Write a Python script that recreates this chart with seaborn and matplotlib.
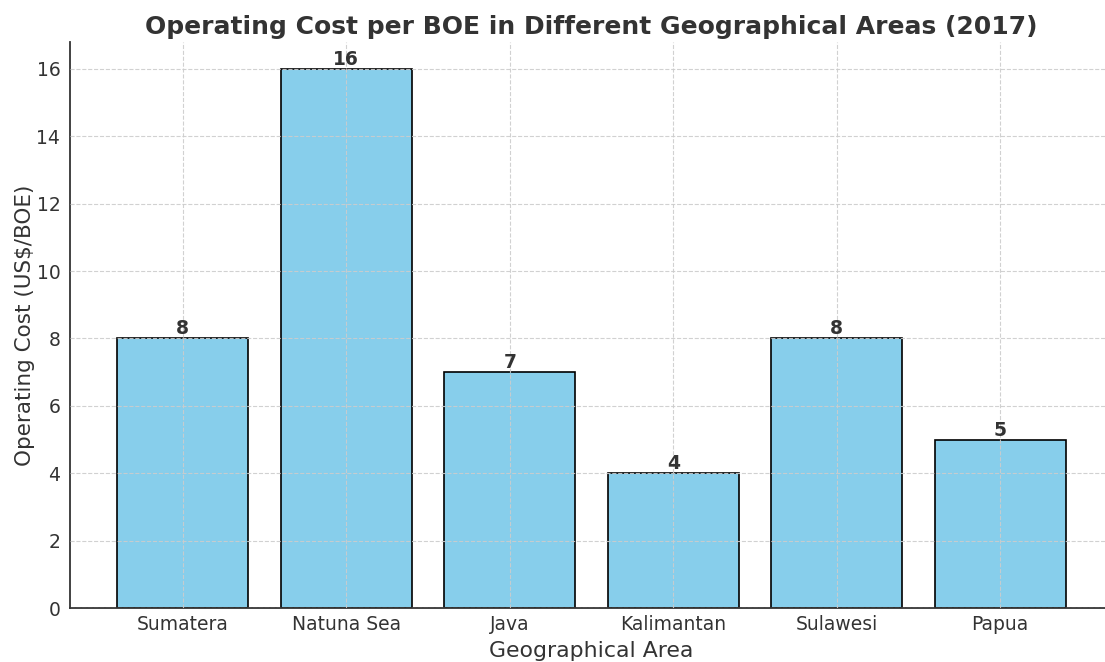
import matplotlib
matplotlib.use("Agg")
import matplotlib.pyplot as plt
import seaborn as sns
import pandas as pd

areas = ["Sumatera", "Natuna Sea", "Java", "Kalimantan", "Sulawesi", "Papua"]
costs = [8, 16, 7, 4, 8, 5]

df = pd.DataFrame({"Geographical Area": areas, "Operating Cost": costs})

sns.set_theme(style="white")
plt.rcParams["font.family"] = ["DejaVu Sans"]
text_color = "#333333"

fig = plt.figure(figsize=(11.05, 6.62), dpi=100)
ax = fig.add_axes([70 / 1105, 54 / 662, 1043 / 1105, 566 / 662])

sns.barplot(data=df, x="Geographical Area", y="Operating Cost", ax=ax,
            color="skyblue", saturation=1, width=0.8,
            edgecolor="black", linewidth=1.2)

for patch, val in zip(ax.patches, costs):
    ax.text(patch.get_x() + patch.get_width() / 2, val, f"{val}",
            ha="center", va="bottom", fontsize=13.5, fontweight="bold",
            color=text_color)

ax.set_xlim(-0.69, 5.69)
ax.set_ylim(0, 16.8)
ax.set_axisbelow(False)
ax.grid(True, linestyle="--", color="#cccccc", linewidth=0.8, alpha=0.9)

ax.set_title("Operating Cost per BOE in Different Geographical Areas (2017)",
             fontsize=18, fontweight="bold", color=text_color, pad=6)
ax.set_xlabel("Geographical Area", fontsize=15.8, color=text_color, labelpad=5)
ax.set_ylabel("Operating Cost (US$/BOE)", fontsize=15.5, color=text_color,
              labelpad=1)

ax.tick_params(axis="x", direction="in", length=4, color=text_color,
               labelsize=13.5, labelcolor=text_color, pad=5)
ax.tick_params(axis="y", length=0, labelsize=13.5, labelcolor=text_color, pad=7)

for side in ["top", "right"]:
    ax.spines[side].set_visible(False)
for side in ["left", "bottom"]:
    ax.spines[side].set_color(text_color)
    ax.spines[side].set_linewidth(1.3)

fig.savefig("out.png", dpi=100)
